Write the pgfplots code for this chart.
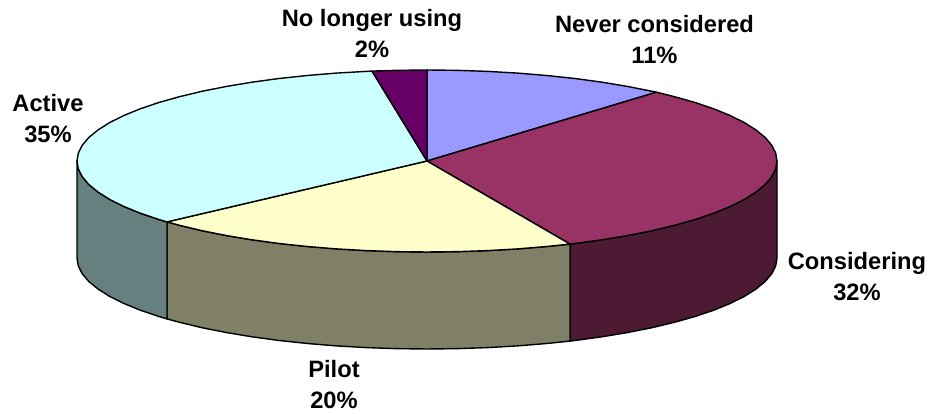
\documentclass[border=0pt]{standalone}
\usepackage{fontspec}
\setmainfont{Liberation Sans}
\usepackage{pgfplots}
\pgfplotsset{compat=1.18}
\definecolor{cNever}{HTML}{9999FF}
\definecolor{cCons}{HTML}{993366}
\definecolor{cPilot}{HTML}{FFFFCC}
\definecolor{cActive}{HTML}{CCFFFF}
\definecolor{cNo}{HTML}{660066}
\definecolor{sCons}{HTML}{4D1A33}
\definecolor{sPilot}{HTML}{808066}
\definecolor{sActive}{HTML}{668080}
\tikzset{lbl/.style={font=\fontsize{23.7}{31}\selectfont\bfseries, align=center, inner sep=0pt, anchor=center, text=black}}
\begin{document}
\begin{tikzpicture}
\begin{axis}[
  scale only axis, width=933pt, height=414pt,
  xmin=-427, xmax=506, ymin=-253, ymax=161,
  hide axis, clip=false,
  every axis plot/.style={draw=black, line width=1.4pt, line join=round, mark=none},
]
% side walls
\addplot[fill=sCons] coordinates {(350,0)(348.7,-7.9)(344.7,-15.8)(338.1,-23.6)(328.9,-31.1)(317.2,-38.5)(303.1,-45.5)(286.7,-52.2)(268.1,-58.5)(247.5,-64.3)(225,-69.7)(200.8,-74.5)(175,-78.8)(147.9,-82.5)(143,-83.1)(143,-180.1)(147.9,-179.5)(175,-175.8)(200.8,-171.5)(225,-166.7)(247.5,-161.3)(268.1,-155.5)(286.7,-149.2)(303.1,-142.5)(317.2,-135.5)(328.9,-128.1)(338.1,-120.6)(344.7,-112.8)(348.7,-104.9)(350,-97)} -- cycle;
\addplot[fill=sPilot] coordinates {(143,-83.1)(119.7,-85.5)(90.6,-87.9)(60.8,-89.6)(30.5,-90.65)(0,-91)(-30.5,-90.65)(-60.8,-89.6)(-90.6,-87.9)(-119.7,-85.5)(-147.9,-82.5)(-175,-78.8)(-200.8,-74.5)(-225,-69.7)(-247.5,-64.3)(-260,-60.9)(-260,-157.9)(-247.5,-161.3)(-225,-166.7)(-200.8,-171.5)(-175,-175.8)(-147.9,-179.5)(-119.7,-182.5)(-90.6,-184.9)(-60.8,-186.6)(-30.5,-187.65)(0,-188)(30.5,-187.65)(60.8,-186.6)(90.6,-184.9)(119.7,-182.5)(143,-180.1)} -- cycle;
\addplot[fill=sActive] coordinates {(-260,-60.9)(-268.1,-58.5)(-286.7,-52.2)(-303.1,-45.5)(-317.2,-38.5)(-328.9,-31.1)(-338.1,-23.6)(-344.7,-15.8)(-348.7,-7.9)(-350,0)(-350,-97)(-348.7,-104.9)(-344.7,-112.8)(-338.1,-120.6)(-328.9,-128.1)(-317.2,-135.5)(-303.1,-142.5)(-286.7,-149.2)(-268.1,-155.5)(-260,-157.9)} -- cycle;
% top slices
\addplot[fill=cNever] coordinates {(0,0)(0,91)(30.5,90.65)(60.8,89.6)(90.6,87.9)(119.7,85.5)(147.9,82.5)(175,78.8)(200.8,74.5)(225,69.7)(229.6,68.8)} -- cycle;
\addplot[fill=cCons] coordinates {(0,0)(229.6,68.8)(247.5,64.3)(268.1,58.5)(286.7,52.2)(303.1,45.5)(317.2,38.5)(328.9,31.1)(338.1,23.6)(344.7,15.8)(348.7,7.9)(350,0)(348.7,-7.9)(344.7,-15.8)(338.1,-23.6)(328.9,-31.1)(317.2,-38.5)(303.1,-45.5)(286.7,-52.2)(268.1,-58.5)(247.5,-64.3)(225,-69.7)(200.8,-74.5)(175,-78.8)(147.9,-82.5)(143,-83.1)} -- cycle;
\addplot[fill=cPilot] coordinates {(0,0)(143,-83.1)(119.7,-85.5)(90.6,-87.9)(60.8,-89.6)(30.5,-90.65)(0,-91)(-30.5,-90.65)(-60.8,-89.6)(-90.6,-87.9)(-119.7,-85.5)(-147.9,-82.5)(-175,-78.8)(-200.8,-74.5)(-225,-69.7)(-247.5,-64.3)(-260,-60.9)} -- cycle;
\addplot[fill=cActive] coordinates {(0,0)(-260,-60.9)(-268.1,-58.5)(-286.7,-52.2)(-303.1,-45.5)(-317.2,-38.5)(-328.9,-31.1)(-338.1,-23.6)(-344.7,-15.8)(-348.7,-7.9)(-350,0)(-348.7,7.9)(-344.7,15.8)(-338.1,23.6)(-328.9,31.1)(-317.2,38.5)(-303.1,45.5)(-286.7,52.2)(-268.1,58.5)(-247.5,64.3)(-225,69.7)(-200.8,74.5)(-175,78.8)(-147.9,82.5)(-119.7,85.5)(-90.6,87.9)(-60.8,89.6)(-55,89.9)} -- cycle;
\addplot[fill=cNo] coordinates {(0,0)(-55,89.9)(-30.5,90.65)(0,91)} -- cycle;
% keeps the page as large as the axis
\addplot[draw=none, line width=0pt] coordinates {(-427,-253)(506,161)};
% labels
\node[lbl] at (axis cs:227.5,121) {Never considered\\11\%};
\node[lbl] at (axis cs:-55,127) {No longer using\\2\%};
\node[lbl] at (axis cs:-379,42) {Active\\35\%};
\node[lbl] at (axis cs:430,-116) {Considering\\32\%};
\node[lbl] at (axis cs:-93,-224) {Pilot\\20\%};
\end{axis}
\end{tikzpicture}
\end{document}
